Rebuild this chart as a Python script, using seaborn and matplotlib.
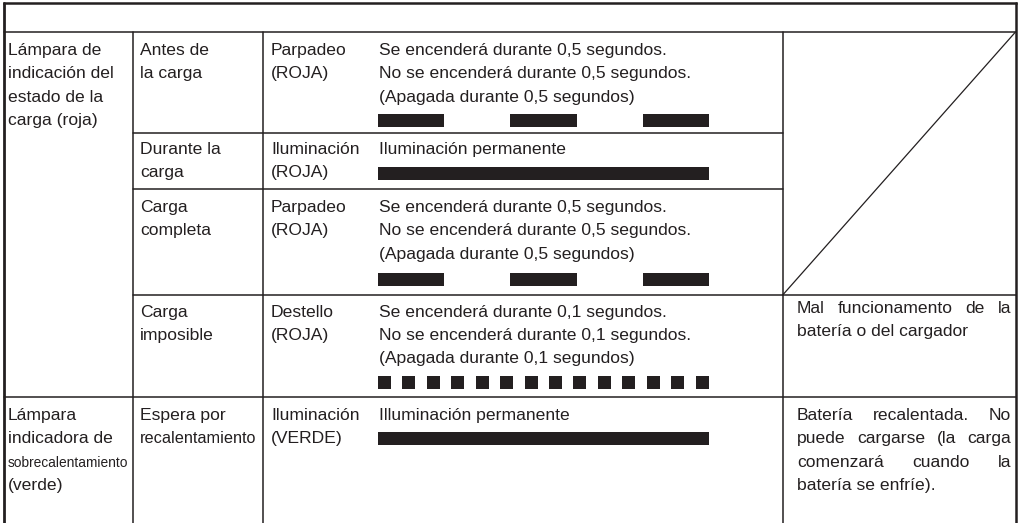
import matplotlib
matplotlib.use('Agg')
import matplotlib.pyplot as plt
import seaborn as sns

# table content
LAMPS = ['Lámpara de\nindicación del\nestado de la\ncarga (roja)',
         'Lámpara\nindicadora de\nsobrecalentamiento\n(verde)']
STATES = ['Antes de\nla carga', 'Durante la\ncarga', 'Carga\ncompleta',
          'Carga\nimposible', 'Espera por\nrecalentamiento']
SIGNALS = ['Parpadeo\n(ROJA)', 'Iluminación\n(ROJA)', 'Parpadeo\n(ROJA)',
           'Destello\n(ROJA)', 'Iluminación\n(VERDE)']
DESCRIPTIONS = [
    'Se encenderá durante 0,5 segundos.\nNo se encenderá durante 0,5 segundos.\n(Apagada durante 0,5 segundos)',
    'Iluminación permanente',
    'Se encenderá durante 0,5 segundos.\nNo se encenderá durante 0,5 segundos.\n(Apagada durante 0,5 segundos)',
    'Se encenderá durante 0,1 segundos.\nNo se encenderá durante 0,1 segundos.\n(Apagada durante 0,1 segundos)',
    'Illuminación permanente',
]
REMARKS = [None, None, None,
           ['Mal funcionamento de la', 'batería o del cargador'],
           ['Batería recalentada. No', 'puede cargarse (la carga',
            'comenzará cuando la', 'batería se enfríe).']]

# lamp "on" intervals in seconds: (start, duration)
BLINK_05 = [(0.0, 0.5), (1.0, 0.5), (2.0, 0.5)]
STEADY = [(0.0, 2.5)]
FLASH_01 = [(0.0, 0.1), (0.18, 0.1), (0.37, 0.1), (0.55, 0.1), (0.74, 0.1),
            (0.92, 0.1), (1.11, 0.1), (1.29, 0.1), (1.47, 0.1), (1.66, 0.1),
            (1.84, 0.1), (2.03, 0.1), (2.21, 0.1), (2.40, 0.1)]
PULSES = [BLINK_05, STEADY, BLINK_05, FLASH_01, STEADY]
TIME_SPAN = 2.5

INK = '#231f20'
W, H = 1021, 523

sns.set_style('white')
plt.rcParams['font.family'] = ['Liberation Sans', 'DejaVu Sans']
FS = 12.6
LEAD = 23.3

fig = plt.figure(figsize=(W / 100, H / 100), dpi=100)
ax = fig.add_axes([0, 0, 1, 1])
ax.set_xlim(0, W)
ax.set_ylim(H, 0)
ax.axis('off')

# grid
xl, x2, x3, x4, x5, xr = 4, 132.7, 263.3, 378, 782.7, 1015.5
ax.plot([xl, xr], [3, 3], color=INK, lw=1.8, solid_capstyle='projecting')
ax.plot([xl, xl], [3, H], color=INK, lw=2.0)
ax.plot([xr, xr], [3, H], color=INK, lw=1.8)
for x in (x2, x3, x5):
    ax.plot([x, x], [32, H], color=INK, lw=1.1)
ax.plot([xl, xr], [32, 32], color=INK, lw=1.1)
ax.plot([x2, x5], [132.5, 132.5], color=INK, lw=1.1)
ax.plot([x2, x5], [189, 189], color=INK, lw=1.1)
ax.plot([x2, xr], [295, 295], color=INK, lw=1.1)
ax.plot([xl, xr], [396.5, 396.5], color=INK, lw=1.1)
ax.plot([x5, xr], [295, 32], color=INK, lw=0.9)


def put_lines(x, y0, text, sizes=None):
    for i, line in enumerate(text.split('\n')):
        size = sizes.get(i, FS) if sizes else FS
        ax.text(x, y0 + i * LEAD, line, fontsize=size, color=INK,
                va='baseline', ha='left')


first_base = [55, 154, 212, 316.7, 420]

put_lines(7.5, 55, LAMPS[0])
# long words are squeezed to fit their column
put_lines(7.5, 420, LAMPS[1], sizes={2: 9.9})

for i in range(5):
    put_lines(140, first_base[i], STATES[i], sizes={1: 11.7} if i == 4 else None)
    put_lines(271, first_base[i], SIGNALS[i])
    put_lines(379, first_base[i], DESCRIPTIONS[i])

# timing diagrams
bar_y = [(114, 127), (167, 180), (273, 285.5), (376, 388.5), (431.7, 445)]
for pulses, (top, bot) in zip(PULSES, bar_y):
    bax = fig.add_axes([x4 / W, 1 - bot / H, (709 - x4) / W, (bot - top) / H])
    bax.broken_barh(pulses, (0, 1), facecolors=INK, edgecolor='none')
    bax.set_xlim(0, TIME_SPAN)
    bax.set_ylim(0, 1)
    bax.axis('off')

# remarks, justified
renderer = fig.canvas.get_renderer()
left, right = 797, 1011
remark_base = {3: 313, 4: 420}
for r, base in remark_base.items():
    lines = REMARKS[r]
    for i, line in enumerate(lines):
        y = base + i * LEAD
        words = line.split(' ')
        if i == len(lines) - 1 or len(words) == 1:
            ax.text(left, y, line, fontsize=FS, color=INK, va='baseline')
            continue
        arts = [ax.text(0, y, w, fontsize=FS, color=INK, va='baseline')
                for w in words]
        widths = [a.get_window_extent(renderer).width for a in arts]
        gap = (right - left - sum(widths)) / (len(words) - 1)
        x = left
        for a, w in zip(arts, widths):
            a.set_x(x)
            x += w + gap

fig.savefig('out.png', dpi=100)
